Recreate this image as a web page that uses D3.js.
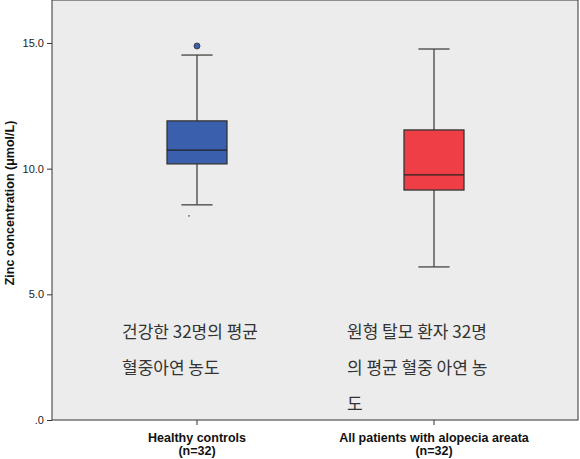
<!DOCTYPE html>
<html><head><meta charset="utf-8">
<script src="https://cdn.jsdelivr.net/npm/d3@7"></script>
<style>body{margin:0;background:#fff}</style></head>
<body><svg id="c" width="580" height="459"></svg>
<script>
const categories = ["Healthy controls", "All patients with alopecia areata"];
const nLabels = ["(n=32)", "(n=32)"];
const lowWhisker = [8.56, 6.09];
const q1 = [10.19, 9.15];
const median = [10.74, 9.75];
const q3 = [11.9, 11.54];
const highWhisker = [14.52, 14.76];
const outliers = [[14.88], []];
const extremes = [[8.12], []];
const colors = ["#3a5fad", "#ef3e46"];
const yTicks = [0, 5, 10, 15];
const notes = [["건강한 32명의 평균", "혈중아연 농도"], ["원형 탈모 환자 32명", "의 평균 혈중 아연 농", "도"]];

const svg = d3.select("#c");
const L = 52, R = 578, T = 0, B = 420;
const y = d3.scaleLinear().domain([0, 16.71]).range([B, T]);
const x = d3.scaleBand().domain(categories).range([78.5, 552.5]).padding(0);
const boxW = x.bandwidth() * 0.253;
svg.append("rect").attr("x", L).attr("y", T).attr("width", R - L).attr("height", B - T)
  .attr("fill", "#ececec").attr("stroke", "#333").attr("stroke-width", 1);

const ya = svg.append("g").attr("transform", `translate(${L},0)`)
  .call(d3.axisLeft(y).tickValues(yTicks).tickSize(5).tickFormat(d => d === 0 ? ".0" : d3.format(".1f")(d)));
ya.select(".domain").remove();
ya.selectAll("text").attr("font-family", "Arial, Liberation Sans").attr("font-size", 11).attr("fill", "#222");
ya.selectAll("line").attr("stroke", "#333");

const xa = svg.append("g").attr("transform", `translate(0,${B})`)
  .call(d3.axisBottom(x).tickSize(5).tickFormat(""));
xa.select(".domain").remove();
xa.selectAll("line").attr("stroke", "#333");
categories.forEach((c, i) => {
  const cx = x(c) + x.bandwidth() / 2;
  const t = svg.append("text").attr("x", cx).attr("text-anchor", "middle")
    .attr("font-family", "Arial, Liberation Sans").attr("font-weight", "bold").attr("font-size", 12.5).attr("fill", "#111");
  t.append("tspan").attr("x", cx).attr("y", 442).text(c);
  t.append("tspan").attr("x", cx).attr("y", 455).text(nLabels[i]);
});

svg.append("text").attr("transform", "translate(14,203) rotate(-90)").attr("text-anchor", "middle")
  .attr("font-family", "Arial, Liberation Sans").attr("font-weight", "bold").attr("font-size", 12.5).attr("fill", "#111")
  .text("Zinc concentration  (μmol/L)");

categories.forEach((c, i) => {
  const cx = x(c) + x.bandwidth() / 2, x0 = cx - boxW / 2, w = boxW, cap = w * 0.26;
  const g = svg.append("g").attr("stroke", "#444").attr("stroke-width", 1.3);
  g.append("line").attr("x1", cx).attr("x2", cx).attr("y1", y(highWhisker[i])).attr("y2", y(q3[i]));
  g.append("line").attr("x1", cx).attr("x2", cx).attr("y1", y(q1[i])).attr("y2", y(lowWhisker[i]));
  [highWhisker[i], lowWhisker[i]].forEach(v => g.append("line").attr("x1", cx - cap).attr("x2", cx + cap).attr("y1", y(v)).attr("y2", y(v)));
  g.append("rect").attr("x", x0).attr("width", w).attr("y", y(q3[i])).attr("height", y(q1[i]) - y(q3[i]))
    .attr("fill", colors[i]).attr("stroke", "#333");
  g.append("line").attr("x1", x0).attr("x2", x0 + w).attr("y1", y(median[i])).attr("y2", y(median[i])).attr("stroke", "#222");
  outliers[i].forEach(v => svg.append("circle").attr("cx", cx).attr("cy", y(v)).attr("r", 3)
    .attr("fill", colors[i]).attr("stroke", "#333").attr("stroke-width", 0.8));
  extremes[i].forEach(v => svg.append("circle").attr("cx", cx - 8).attr("cy", y(v)).attr("r", 0.8).attr("fill", "#555"));
});

const nx = [122, 347];
notes.forEach((lines, i) => lines.forEach((s, j) => svg.append("text").attr("x", nx[i]).attr("y", 338 + j * 36)
  .attr("font-family", "Noto Sans CJK KR").attr("font-size", 17).attr("fill", "#333").text(s)));
</script></body></html>
